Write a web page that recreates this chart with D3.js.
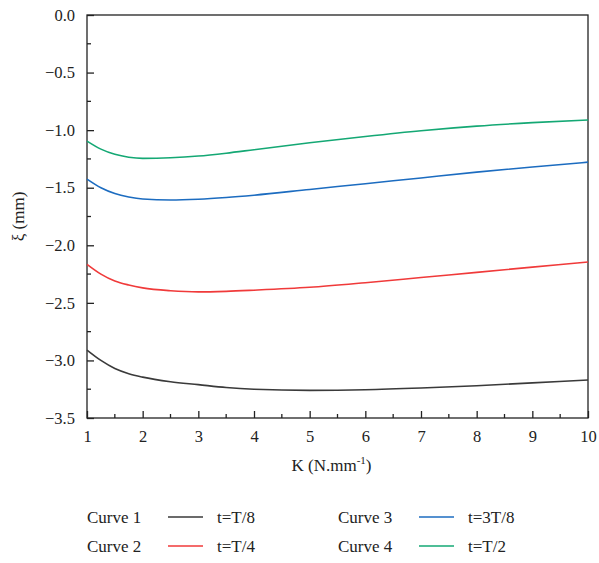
<!DOCTYPE html>
<html><head><meta charset="utf-8">
<script src="https://cdn.jsdelivr.net/npm/d3@7"></script>
<style>body{margin:0;background:#fff}svg{display:block}
svg text{font-family:"Liberation Serif","Times New Roman",Times,"Tinos","DejaVu Serif","Noto Serif",serif !important;fill:#222}</style>
</head><body>
<svg id="c" width="599" height="563"></svg>
<script>
const kValues = [1, 1.25, 1.5, 1.75, 2, 2.5, 3, 3.5, 4, 5, 6, 7, 8, 9, 10];
const curve1 = [-2.91, -3.00, -3.07, -3.115, -3.145, -3.185, -3.21, -3.235, -3.25, -3.26, -3.255, -3.24, -3.22, -3.195, -3.17];
const curve2 = [-2.165, -2.25, -2.31, -2.345, -2.37, -2.395, -2.405, -2.40, -2.39, -2.365, -2.325, -2.28, -2.235, -2.19, -2.145];
const curve3 = [-1.425, -1.50, -1.55, -1.58, -1.598, -1.607, -1.60, -1.585, -1.565, -1.515, -1.465, -1.415, -1.365, -1.32, -1.278];
const curve4 = [-1.095, -1.165, -1.21, -1.235, -1.245, -1.24, -1.225, -1.20, -1.17, -1.11, -1.055, -1.005, -0.965, -0.935, -0.912];
const seriesNames = ["Curve 1", "Curve 2", "Curve 3", "Curve 4"];
const seriesLabels = ["t=T/8", "t=T/4", "t=3T/8", "t=T/2"];
const seriesColors = ["#3a3a3a", "#f03a3a", "#1c6cc0", "#14a874"];
const xTicks = [1,2,3,4,5,6,7,8,9,10];
const yTicks = [0,-0.5,-1,-1.5,-2,-2.5,-3,-3.5];

const svg = d3.select("#c");
const L = 87, R = 588, T = 15, B = 418;
const x = d3.scaleLinear().domain([1,10]).range([L,R]);
const y = d3.scaleLinear().domain([-3.5,0]).range([B,T]);

svg.append("rect").attr("x",L).attr("y",T).attr("width",R-L).attr("height",B-T)
  .attr("fill","none").attr("stroke","#222").attr("stroke-width",1.3);

const fmt = d => (d<0?"\u2212":"") + Math.abs(d).toFixed(1);
const ya = svg.append("g").attr("transform",`translate(${L},0)`)
  .call(d3.axisLeft(y).tickValues(yTicks).tickSize(-7).tickPadding(10).tickFormat(fmt));
ya.attr("font-family",null);
ya.select(".domain").remove();
ya.selectAll("text").attr("font-size",16.5).attr("fill","#222").attr("dx",-2);
ya.selectAll("line").attr("stroke","#222").attr("stroke-width",1.3);
const yMinor = d3.range(-3.25, 0, 0.5);
svg.append("g").selectAll("line").data(yMinor).join("line")
  .attr("x1",L).attr("x2",L+4).attr("y1",d=>y(d)).attr("y2",d=>y(d)).attr("stroke","#222").attr("stroke-width",1.3);

const xa = svg.append("g").attr("transform",`translate(0,${B})`)
  .call(d3.axisBottom(x).tickValues(xTicks).tickSize(-7).tickPadding(12).tickFormat(d3.format("d")));
xa.attr("font-family",null);
xa.select(".domain").remove();
xa.selectAll("text").attr("font-size",16.5).attr("fill","#222");
xa.selectAll("line").attr("stroke","#222").attr("stroke-width",1.3);
const xMinor = d3.range(1.5, 10, 1);
svg.append("g").selectAll("line").data(xMinor).join("line")
  .attr("y1",B).attr("y2",B-4).attr("x1",d=>x(d)).attr("x2",d=>x(d)).attr("stroke","#222").attr("stroke-width",1.3);

const xl = svg.append("text").attr("x",(L+R)/2-6).attr("y",471).attr("text-anchor","middle").attr("font-size",17);
xl.append("tspan").text("K (N.mm");
xl.append("tspan").text("-1").attr("font-size",11).attr("dy",-7);
xl.append("tspan").text(")").attr("dy",7);
svg.append("text").attr("transform",`translate(24,${(T+B)/2}) rotate(-90)`).attr("text-anchor","middle")
  .attr("font-size",17).text("\u03be (mm)");

const data = [curve1, curve2, curve3, curve4];
const line = d3.line().x((d,i)=>x(kValues[i])).y(d=>y(d)).curve(d3.curveMonotoneX);
svg.append("g").selectAll("path").data(data).join("path")
  .attr("d",line).attr("fill","none").attr("stroke",(d,i)=>seriesColors[i]).attr("stroke-width",1.6);

const lg = svg.append("g");
const pos = [[87,523],[87,552],[338,523],[338,552]];
seriesNames.forEach((n,i)=>{
  const [px,py] = pos[i];
  lg.append("text").attr("x",px).attr("y",py).attr("font-size",17).text(n);
  lg.append("line").attr("x1",px+81).attr("x2",px+116).attr("y1",py-6).attr("y2",py-6)
    .attr("stroke",seriesColors[i]).attr("stroke-width",1.5);
  lg.append("text").attr("x",px+130).attr("y",py).attr("font-size",17).text(seriesLabels[i]);
});
</script>
</body></html>
